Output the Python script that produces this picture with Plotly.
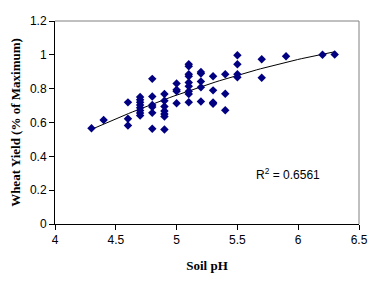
import numpy as np
import plotly.graph_objects as go

soil_ph = [4.3, 4.4,
           4.6, 4.6, 4.6,
           4.7, 4.7, 4.7, 4.7, 4.7, 4.7, 4.7, 4.7,
           4.8, 4.8, 4.8, 4.8, 4.8, 4.8,
           4.9, 4.9, 4.9, 4.9, 4.9, 4.9, 4.9,
           5.0, 5.0, 5.0, 5.0,
           5.1, 5.1, 5.1, 5.1, 5.1, 5.1, 5.1, 5.1, 5.1,
           5.2, 5.2, 5.2, 5.2, 5.2,
           5.3, 5.3, 5.3, 5.3,
           5.4, 5.4, 5.4,
           5.5, 5.5, 5.5, 5.5,
           5.7, 5.7,
           5.9,
           6.2,
           6.3]
wheat_yield = [0.566, 0.615,
               0.719, 0.622, 0.582,
               0.751, 0.735, 0.719, 0.703, 0.687, 0.671, 0.656, 0.641,
               0.858, 0.754, 0.703, 0.692, 0.657, 0.563,
               0.768, 0.729, 0.695, 0.668, 0.650, 0.635, 0.559,
               0.831, 0.794, 0.784, 0.714,
               0.945, 0.932, 0.885, 0.873, 0.837, 0.814, 0.784, 0.768, 0.720,
               0.899, 0.889, 0.843, 0.808, 0.724,
               0.873, 0.790, 0.718, 0.711,
               0.885, 0.770, 0.673,
               0.998, 0.944, 0.885, 0.867,
               0.974, 0.865,
               0.992,
               1.000,
               1.002]
r2_label = "R<sup>2</sup> = 0.6561"

coef = np.polyfit(soil_ph, wheat_yield, 2)
tx = np.linspace(min(soil_ph), max(soil_ph), 60)
ty = np.polyval(coef, tx)

fig = go.Figure()
fig.add_trace(go.Scatter(x=tx, y=ty, mode="lines",
                         line=dict(color="black", width=1), hoverinfo="skip"))
fig.add_trace(go.Scatter(x=soil_ph, y=wheat_yield, mode="markers",
                         marker=dict(symbol="diamond", size=6.5, color="#000080",
                                     line=dict(width=0))))

fig.add_annotation(x=5.915, y=0.294, text=r2_label, showarrow=False,
                   font=dict(family="Liberation Sans, Arial", size=12, color="black"))

# gray top/right frame
fig.add_shape(type="line", xref="paper", yref="paper", x0=0, x1=1, y0=1, y1=1,
              line=dict(color="#808080", width=1), layer="below")
fig.add_shape(type="line", xref="paper", yref="paper", x0=1, x1=1, y0=0, y1=1,
              line=dict(color="#808080", width=1), layer="below")

axis_font = dict(family="Liberation Sans, Arial", size=12, color="black")
title_font = dict(family="Liberation Serif, Times New Roman", size=13, color="black")

fig.update_layout(
    width=380, height=286,
    margin=dict(l=55, r=18, t=21, b=62),
    paper_bgcolor="white", plot_bgcolor="white",
    showlegend=False,
    xaxis=dict(range=[4, 6.5], tickvals=[4, 4.5, 5, 5.5, 6, 6.5],
               ticktext=["4", "4.5", "5", "5.5", "6", "6.5"],
               showgrid=False, zeroline=False, showline=True, linecolor="black",
               linewidth=1, ticks="outside", ticklen=5, tickcolor="black",
               tickfont=axis_font,
               title=dict(text="<b>Soil pH</b>", font=title_font, standoff=14)),
    yaxis=dict(range=[0, 1.2], tickvals=[0, 0.2, 0.4, 0.6, 0.8, 1, 1.2],
               ticktext=["0", "0.2", "0.4", "0.6", "0.8", "1", "1.2"],
               showgrid=False, zeroline=False, showline=True, linecolor="black",
               linewidth=1, ticks="outside", ticklen=5, tickcolor="black",
               tickfont=axis_font,
               title=dict(text="<b>Wheat Yield (% of Maximum)</b>", font=title_font,
                          standoff=6)),
)

fig.write_html("out.html")
